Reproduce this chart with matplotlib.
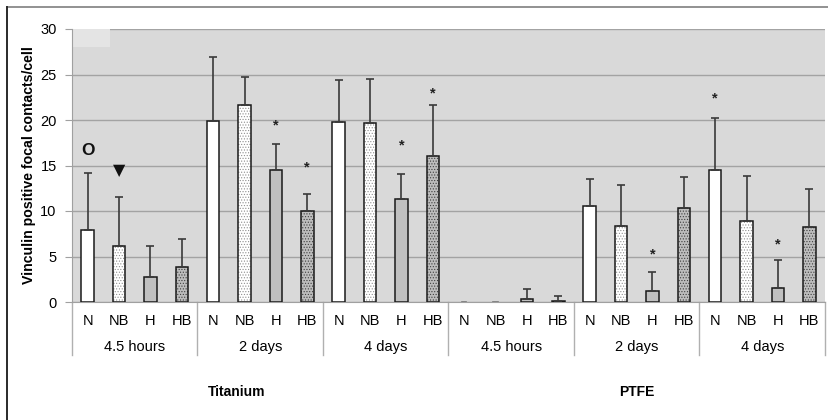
import matplotlib
matplotlib.use("Agg")
import matplotlib.pyplot as plt
import matplotlib.transforms as mtransforms
from matplotlib.patches import Rectangle
from matplotlib.lines import Line2D

plt.rcParams['font.family'] = ['Liberation Sans', 'DejaVu Sans']
plt.rcParams['hatch.linewidth'] = 0.5

# Data
materials = ["Titanium", "PTFE"]
times = ["4.5 hours", "2 days", "4 days"]
treatments = ["N", "NB", "H", "HB"]

# Mean values (material x time x treatment), flattened in plotting order
means = [
    7.9, 6.15, 2.75, 3.85,      # Titanium 4.5 hours
    19.85, 21.7, 14.5, 10.0,    # Titanium 2 days
    19.8, 19.7, 11.3, 16.0,     # Titanium 4 days
    0.0, 0.0, 0.3, 0.15,        # PTFE 4.5 hours
    10.5, 8.35, 1.2, 10.35,     # PTFE 2 days
    14.55, 8.9, 1.5, 8.2,       # PTFE 4 days
]
# Upper standard deviation
errors = [
    6.3, 5.35, 3.45, 3.1,
    7.05, 3.0, 2.85, 1.9,
    4.6, 4.8, 2.8, 5.7,
    0.0, 0.0, 1.1, 0.5,
    3.05, 4.55, 2.15, 3.35,
    5.65, 4.9, 3.15, 4.2,
]
# Significance markers: (bar index, marker, y position)
markers = [
    (0, "O", 16.6),
    (1, "\u25BC", 14.4),
    (6, "*", 19.4),
    (7, "*", 14.8),
    (10, "*", 17.2),
    (11, "*", 22.9),
    (18, "*", 5.2),
    (20, "*", 22.4),
    (22, "*", 6.3),
]

# Styles per treatment: face colour, hatch, hatch colour
styles = {
    "N": ("white", None, None),
    "NB": ("white", "......", "#909090"),
    "H": ("#c0c0c0", None, None),
    "HB": ("#bdbdbd", "......", "#404040"),
}

W, H = 829, 420
fig = plt.figure(figsize=(W / 100, H / 100), dpi=100)

# outer frame (top and left edges)
fig.add_artist(Line2D([7 / W, 1.0], [1 - 7 / H, 1 - 7 / H], color="#7f7f7f", lw=1.2))
fig.add_artist(Line2D([7 / W, 7 / W], [0, 1 - 7 / H], color="#2a2a2a", lw=1.4))

ax = fig.add_axes([72 / W, 1 - 302 / H, (825 - 72) / W, (302 - 29) / H])
ax.set_facecolor("#d9d9d9")
n = len(means)
ax.set_xlim(0, n)
ax.set_ylim(0, 30)
ax.set_yticks(range(0, 31, 5))
ax.yaxis.grid(True, color="#a3a3a3", lw=1.0)
ax.set_axisbelow(True)
ax.tick_params(axis="y", length=5, color="#a0a0a0", labelsize=10.5, pad=6)
ax.set_xticks([])
for s in ["top", "right"]:
    ax.spines[s].set_visible(False)
ax.spines["left"].set_color("#a0a0a0")
ax.spines["bottom"].set_color("#a0a0a0")

# faint light patch in the top-left corner
ax.add_patch(Rectangle((0, 28), 1.2, 2, facecolor="#e4e4e4", edgecolor="none", zorder=1))

bw = 0.4
xs = [i + 0.5 for i in range(n)]
for i, (x, m, e) in enumerate(zip(xs, means, errors)):
    t = treatments[i % 4]
    fc, hatch, hc = styles[t]
    if m > 0:
        ax.bar(x, m, width=bw, color=fc, edgecolor=hc if hatch else "none",
               hatch=hatch, lw=0, zorder=2)
        ax.bar(x, m, width=bw, fill=False, edgecolor="#1a1a1a", lw=1.1, zorder=3)
    else:
        ax.plot([x - 0.07, x + 0.07], [0.05, 0.05], color="#777777", lw=1.2, zorder=3)
    if e > 0:
        ax.errorbar(x, m, yerr=[[0], [e]], fmt="none", ecolor="#3a3a3a",
                    elinewidth=1.2, capsize=3, capthick=1.2, zorder=4)

for idx, sym, y in markers:
    if sym == "*":
        ax.text(xs[idx], y, sym, ha="center", va="center", fontsize=10.5,
                fontweight="bold", color="#222222")
    elif sym == "O":
        ax.text(xs[idx], y, sym, ha="center", va="center", fontsize=12.5,
                fontweight="bold", color="#111111")
    else:
        ax.text(xs[idx], y, sym, ha="center", va="center", fontsize=11.5,
                color="#111111", family=["DejaVu Sans"])

ax.set_ylabel("Vinculin positive focal contacts/cell", fontsize=10.2,
              fontweight="bold", labelpad=3)

# category axis labels
trans = mtransforms.blended_transform_factory(ax.transData, ax.transAxes)
px = 1 / (302 - 29)
for i, x in enumerate(xs):
    ax.text(x, -19 * px, treatments[i % 4], transform=trans, ha="center",
            va="center", fontsize=10.5, clip_on=False)
for g in range(6):
    ax.text(4 * g + 2, -45 * px, times[g % 3], transform=trans, ha="center",
            va="center", fontsize=10.5, clip_on=False)
for g in range(7):
    ax.add_line(Line2D([4 * g, 4 * g], [0, -53 * px], transform=trans,
                       color="#b0b0b0", lw=1.0, clip_on=False))

ax.text(5.25, -90 * px, materials[0], transform=trans, ha="center", va="center",
        fontsize=10, fontweight="bold", clip_on=False)
ax.text(18, -90 * px, materials[1], transform=trans, ha="center", va="center",
        fontsize=10, fontweight="bold", clip_on=False)

fig.savefig("out.png", dpi=100)
